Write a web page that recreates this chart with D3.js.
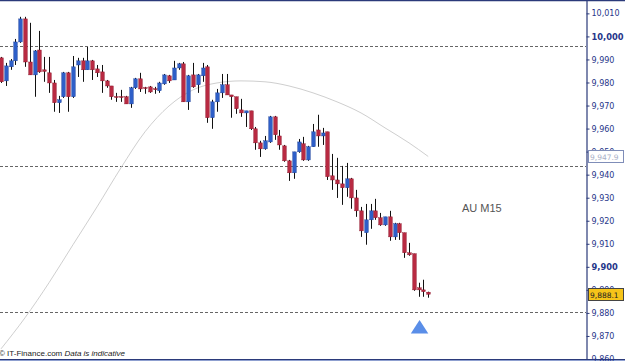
<!DOCTYPE html>
<html lang="en">
<head>
    <meta charset="UTF-8">
    <title>AU M15</title>
    <script src="https://d3js.org/d3.v7.min.js"></script>
    <style>
        body, html {
            margin: 0;
            padding: 0;
            background: #fff;
            font-family: "Liberation Sans", Arial, sans-serif;
        }
        #chart {
            width: 625px;
            height: 361px;
        }
    </style>
</head>
<body>
    <div id="chart"></div>
    <script>
        // candles: open, high, low, close
        const opens  = [9990.7,9980.7,9986.8,9989.4,9997.6,10007.6,9988.9,9983.3,9994.1,9985.5,
                        9984.2,9979.8,9971.2,9973.8,9984.2,9973.8,9987.6,9989.4,9985.5,9989.4,
                        9985.9,9984.6,9980.7,9978.5,9973.9,9973.9,9973.8,9970.7,9977.7,9981.6,
                        9977.8,9978.1,9977.3,9976.4,9979.4,9982.9,9981.1,9986.3,9988.1,9971.6,
                        9983.3,9979.0,9982.9,9986.8,9964.7,9971.6,9975.5,9979.0,9974.6,9973.8,
                        9968.1,9966.8,9967.7,9959.9,9953.8,9951.2,9954.2,9965.1,9956.8,9952.5,
                        9946.0,9940.8,9949.9,9953.4,9946.4,9952.1,9959.4,9956.8,9958.6,9939.5,
                        9937.7,9936.0,9934.3,9938.2,9929.9,9924.3,9914.8,9920.4,9924.3,9921.3,
                        9918.2,9921.7,9913.0,9918.7,9914.8,9906.1,9905.7,9890.9,9890.0,9889.0];
        const highs  = [9991.1,9988.5,9990.2,9998.9,10008.5,10008.5,10005.9,9994.1,10002.4,9991.1,
                        9991.1,9981.1,9974.2,9984.6,9984.6,9991.5,9990.7,9990.7,9995.4,9989.8,
                        9987.6,9987.6,9981.1,9978.5,9975.5,9976.8,9974.2,9978.1,9982.0,9984.2,
                        9978.1,9978.5,9978.1,9980.3,9983.7,9983.3,9989.4,9988.5,9988.9,9983.3,
                        9988.5,9983.7,9988.5,9987.6,9972.5,9977.2,9983.7,9983.7,9974.6,9973.8,
                        9972.9,9967.7,9967.7,9960.7,9954.7,9956.8,9965.5,9965.5,9959.4,9952.9,
                        9946.4,9949.9,9955.5,9956.4,9952.5,9962.0,9966.0,9960.3,9958.6,9949.0,
                        9947.3,9943.8,9945.1,9938.6,9933.4,9926.0,9927.3,9927.3,9929.5,9923.4,
                        9921.7,9924.3,9919.1,9919.1,9914.8,9910.4,9905.7,9893.1,9894.4,9889.2];
        const lows   = [9979.8,9978.5,9985.5,9987.6,9997.2,9986.8,9983.3,9973.8,9984.2,9980.3,
                        9975.5,9967.3,9966.8,9973.3,9967.3,9973.3,9982.4,9980.3,9985.5,9981.1,
                        9982.4,9975.5,9977.7,9972.5,9971.6,9971.6,9970.7,9969.0,9977.2,9975.9,
                        9975.1,9975.5,9975.1,9975.5,9979.0,9979.8,9981.1,9985.5,9971.6,9968.1,
                        9977.7,9975.5,9980.3,9962.5,9959.9,9967.3,9973.3,9974.6,9964.7,9966.4,
                        9965.1,9960.7,9959.4,9950.8,9947.7,9950.8,9953.8,9955.1,9950.8,9945.6,
                        9937.3,9938.2,9949.5,9946.0,9946.0,9952.1,9952.1,9952.9,9937.7,9933.4,
                        9929.9,9926.9,9930.4,9925.2,9921.7,9913.0,9909.6,9916.5,9920.4,9917.8,
                        9917.8,9911.3,9911.7,9911.7,9903.9,9904.8,9889.6,9887.0,9887.0,9886.6];
        const closes = [9980.3,9987.2,9989.4,9997.6,10007.6,9988.9,9983.3,9993.7,9984.6,9984.8,
                        9979.8,9971.2,9972.5,9984.2,9973.8,9986.8,9989.4,9985.5,9989.4,9985.5,
                        9984.2,9980.7,9978.5,9973.8,9973.6,9973.6,9970.7,9977.7,9981.6,9977.2,
                        9977.6,9975.9,9977.1,9979.8,9983.3,9980.7,9986.3,9988.1,9971.6,9982.9,
                        9978.1,9983.3,9986.3,9964.7,9971.6,9975.5,9979.0,9974.6,9973.8,9968.6,
                        9966.8,9967.7,9959.9,9953.8,9951.2,9954.7,9965.1,9957.3,9952.9,9946.0,
                        9940.8,9949.9,9954.2,9946.4,9952.1,9958.6,9956.8,9958.1,9939.1,9937.7,
                        9936.0,9934.3,9938.2,9929.9,9924.3,9915.6,9920.4,9924.3,9921.3,9918.2,
                        9921.7,9913.0,9918.7,9914.8,9906.1,9905.2,9890.0,9890.0,9889.2,9888.1];

        // slow moving average, sampled every few candles
        const maIndex = [0, 5, 10, 15, 20, 25, 30, 35, 40, 45, 50, 55, 60, 65, 70, 75, 80, 85, 89];
        const maValue = [9864.4, 9877.9, 9893.1, 9909.6, 9926.0, 9943.0, 9958.6, 9969.8, 9976.8, 9979.8,
                         9980.7, 9980.3, 9978.5, 9975.5, 9971.6, 9966.8, 9960.3, 9953.8, 9947.9];

        const levels = [9995.9, 9943.8, 9880.5];
        const yTicks = [10010, 10000, 9990, 9980, 9970, 9960, 9950, 9940, 9930, 9920, 9910, 9900, 9890, 9880, 9870, 9860];
        const boldTicks = [10000, 9900];
        const maLast = 9947.9;
        const lastPrice = 9888.1;
        const signal = { index: 87.2, price: 9873 };
        const symbolName = "AU M15";

        const width = 625, height = 361;
        const axisX = 586, plotBottom = 359;

        const candles = opens.map((o, i) => ({ i, o, h: highs[i], l: lows[i], c: closes[i] }));

        const svg = d3.select("#chart").append("svg")
            .attr("width", width)
            .attr("height", height);

        const x = d3.scaleLinear().domain([0, candles.length - 1]).range([1, 428.2]);
        const y = d3.scaleLinear().domain([9860, 10015.8]).range([plotBottom, 0]);

        // dashed levels
        svg.append("g").selectAll("line")
            .data(levels)
            .enter().append("line")
            .attr("x1", 0).attr("x2", axisX)
            .attr("y1", d => Math.round(y(d)) + 0.5)
            .attr("y2", d => Math.round(y(d)) + 0.5)
            .attr("stroke", "#666")
            .attr("stroke-dasharray", "3,2");

        // moving average
        const maLine = d3.line()
            .x((d, k) => x(maIndex[k]))
            .y(d => y(d))
            .curve(d3.curveMonotoneX);
        svg.append("path")
            .datum(maValue)
            .attr("d", maLine)
            .attr("fill", "none")
            .attr("stroke", "#cfcfcf")
            .attr("stroke-width", 1);

        // candles
        const candle = svg.append("g").selectAll("g")
            .data(candles)
            .enter().append("g");

        candle.append("line")
            .attr("x1", d => Math.round(x(d.i)) + 0.5)
            .attr("x2", d => Math.round(x(d.i)) + 0.5)
            .attr("y1", d => y(d.h))
            .attr("y2", d => y(d.l))
            .attr("stroke", "#111")
            .attr("stroke-width", 1);

        candle.append("rect")
            .attr("x", d => Math.round(x(d.i)) - 1.3)
            .attr("width", 3.6)
            .attr("y", d => y(Math.max(d.o, d.c)))
            .attr("height", d => Math.max(1, Math.abs(y(d.o) - y(d.c))))
            .attr("fill", d => d.c >= d.o ? "#2e5fc8" : "#b82a42")
            .attr("stroke", d => d.c >= d.o ? "#1d3f96" : "#8a1428")
            .attr("stroke-width", 0.4);

        // buy signal
        svg.append("path")
            .attr("d", d3.symbol().type(d3.symbolTriangle).size(120))
            .attr("transform", `translate(${x(signal.index)},${y(signal.price)}) scale(1.05,0.95)`)
            .attr("fill", "#5a8ee8");

        svg.append("text")
            .attr("x", 462)
            .attr("y", 212)
            .attr("fill", "#555")
            .style("font-size", "11px")
            .text(symbolName);

        // frame
        svg.append("line")
            .attr("x1", 0).attr("x2", width).attr("y1", 0.5).attr("y2", 0.5)
            .attr("stroke", "#2b3a7a").attr("stroke-width", 1.5);
        svg.append("line")
            .attr("x1", 0).attr("x2", width).attr("y1", plotBottom + 0.5).attr("y2", plotBottom + 0.5)
            .attr("stroke", "#2b3a7a").attr("stroke-width", 1.2);
        svg.append("line")
            .attr("x1", 0).attr("x2", width).attr("y1", plotBottom + 1.5).attr("y2", plotBottom + 1.5)
            .attr("stroke", "#8fa0d0").attr("stroke-width", 1);

        // right price axis
        const axis = svg.append("g")
            .attr("transform", `translate(${axisX + 0.5},0)`)
            .call(d3.axisRight(y).tickValues(yTicks).tickSize(3).tickPadding(2).tickFormat(d3.format(",")));
        axis.select(".domain").attr("stroke", "#2b3a7a").attr("stroke-width", 1.2);
        axis.selectAll(".tick line").attr("stroke", "#2b3a7a");
        axis.selectAll(".tick text")
            .attr("fill", "#27368a")
            .style("font-family", "'DejaVu Sans', sans-serif")
            .style("font-size", d => boldTicks.includes(d) ? "8.3px" : "8px")
            .style("font-weight", d => boldTicks.includes(d) ? "bold" : "normal");

        // value boxes on the axis
        const boxes = [
            { v: maLast, fill: "#fff", stroke: "#7f8db8", text: "#a8b0c8" },
            { v: lastPrice, fill: "#f6c419", stroke: "#444", text: "#222" }
        ];
        const box = svg.append("g").selectAll("g")
            .data(boxes)
            .enter().append("g")
            .attr("transform", d => `translate(588,${Math.round(y(d.v))})`);
        box.append("rect")
            .attr("x", 0.5).attr("y", -5.5)
            .attr("width", 35).attr("height", 12)
            .attr("fill", d => d.fill)
            .attr("stroke", d => d.stroke);
        box.append("text")
            .attr("x", 2).attr("y", 3.5)
            .attr("fill", d => d.text)
            .style("font-family", "'DejaVu Sans', sans-serif")
            .style("font-size", "7.5px")
            .text(d => d3.format(",.1f")(d.v));

        // footer
        const foot = svg.append("text")
            .attr("x", -1)
            .attr("y", 356)
            .attr("fill", "#222")
            .style("font-size", "8px");
        foot.append("tspan").text("\u00a9 IT-Finance.com  ");
        foot.append("tspan").style("font-style", "italic").text("Data is indicative");
    </script>
</body>
</html>
